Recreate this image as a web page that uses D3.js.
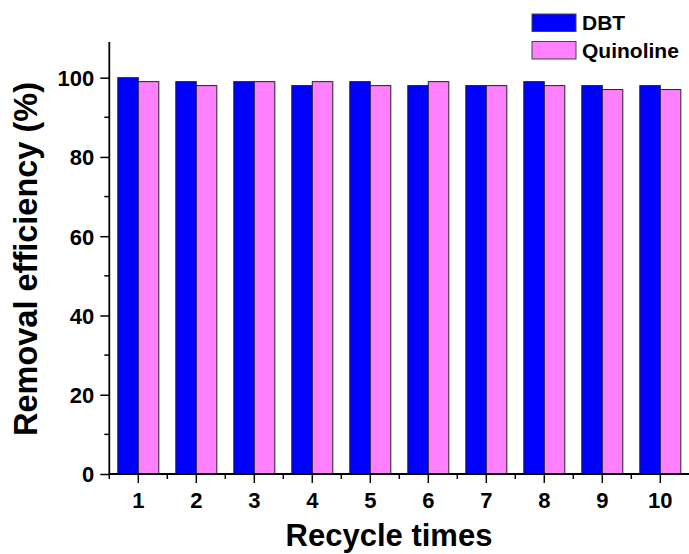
<!DOCTYPE html>
<html>
<head>
<meta charset="utf-8">
<script src="https://cdn.jsdelivr.net/npm/d3@7"></script>
<style>
  html, body { margin: 0; padding: 0; background: #fff; }
  svg { display: block; }
  text { font-family: "Liberation Sans", Arial, sans-serif; font-weight: bold; fill: #000; }
</style>
</head>
<body>
<svg id="chart" width="689" height="554"></svg>
<script>
const categories = ["1", "2", "3", "4", "5", "6", "7", "8", "9", "10"];
const seriesNames = ["DBT", "Quinoline"];
const dbtValues = [100, 99, 99, 98, 99, 98, 98, 99, 98, 98];
const quinolineValues = [99, 98, 99, 99, 98, 99, 98, 98, 97, 97];
const yTickValues = [0, 20, 40, 60, 80, 100];
const yMinorTickValues = [10, 30, 50, 70, 90];
const seriesColors = ["#0000FF", "#FF80FF"];

const svg = d3.select("#chart");
const mLeft = 109.3, mRight = 689.3, mTop = 42, mBottom = 474;

const x = d3.scaleBand().domain(categories).range([mLeft, mRight])
  .paddingInner(0.293).paddingOuter(0.1465);
const xs = d3.scaleBand().domain(seriesNames).range([0, x.bandwidth()]);
const y = d3.scaleLinear().domain([0, 109]).range([mBottom, mTop]);

const seriesData = [dbtValues, quinolineValues];

// bars
const groups = svg.append("g").selectAll("g").data(categories).join("g")
  .attr("transform", d => `translate(${x(d)},0)`);
groups.selectAll("rect")
  .data((d, i) => seriesNames.map((s, j) => ({ s, v: seriesData[j][i], c: seriesColors[j] })))
  .join("rect")
  .attr("x", d => xs(d.s))
  .attr("width", xs.bandwidth())
  .attr("y", d => y(d.v))
  .attr("height", d => y(0) - y(d.v))
  .attr("fill", d => d.c)
  .attr("stroke", "#222")
  .attr("stroke-width", 1);

// y axis
const yAxis = svg.append("g").attr("transform", `translate(${mLeft},0)`)
  .call(d3.axisLeft(y).tickValues(yTickValues).tickSize(9).tickPadding(6).tickFormat(d3.format("d")));
yAxis.select(".domain").remove();
yAxis.selectAll(".tick line").attr("stroke", "#000").attr("stroke-width", 1.5);
yAxis.selectAll(".tick text").style("font-size", "22px").attr("dy", "0.36em");
svg.append("g").selectAll("line").data(yMinorTickValues).join("line")
  .attr("x1", mLeft - 5).attr("x2", mLeft)
  .attr("y1", d => y(d)).attr("y2", d => y(d))
  .attr("stroke", "#000").attr("stroke-width", 1.5);
svg.append("line").attr("x1", mLeft).attr("x2", mLeft).attr("y1", mTop).attr("y2", mBottom)
  .attr("stroke", "#000").attr("stroke-width", 1.8);

// x axis
const xAxis = svg.append("g").attr("transform", `translate(0,${mBottom})`)
  .call(d3.axisBottom(x).tickSize(9).tickPadding(9));
xAxis.select(".domain").remove();
xAxis.selectAll(".tick line").attr("stroke", "#000").attr("stroke-width", 1.5);
xAxis.selectAll(".tick text").style("font-size", "22px");
svg.append("g").selectAll("line").data(categories).join("line")
  .attr("x1", d => x(d) + x.bandwidth() / 2 - x.step() / 2)
  .attr("x2", d => x(d) + x.bandwidth() / 2 - x.step() / 2)
  .attr("y1", mBottom).attr("y2", mBottom + 5)
  .attr("stroke", "#000").attr("stroke-width", 1.5);
svg.append("line").attr("x1", mLeft).attr("x2", mRight).attr("y1", mBottom).attr("y2", mBottom)
  .attr("stroke", "#000").attr("stroke-width", 1.8);

// axis titles
svg.append("text").attr("x", 389).attr("y", 546).attr("text-anchor", "middle")
  .style("font-size", "31px").text("Recycle times");
svg.append("text").attr("transform", "translate(37,259) rotate(-90)").attr("text-anchor", "middle")
  .style("font-size", "32.5px").text("Removal efficiency (%)");

// legend
const legend = svg.append("g").selectAll("g").data(seriesNames).join("g")
  .attr("transform", (d, i) => `translate(532,${14 + i * 27.5})`);
legend.append("rect").attr("width", 44).attr("height", 17.5)
  .attr("fill", (d, i) => seriesColors[i]).attr("stroke", "#444").attr("stroke-width", 1);
legend.append("text").attr("x", 50).attr("y", 16).style("font-size", "21px").text(d => d);
</script>
</body>
</html>
